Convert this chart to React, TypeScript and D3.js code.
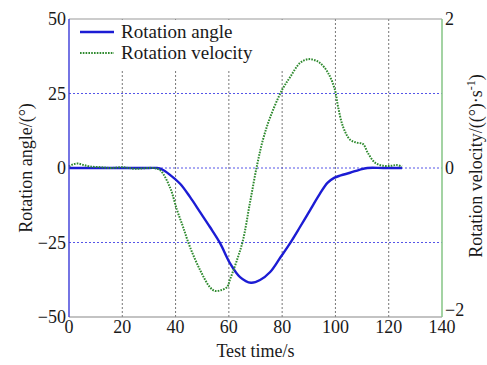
import React from "react";
import * as d3 from "d3";

const angleT = [0, 10, 20, 30, 33, 35, 37.9, 41.7, 45.4, 49.2, 52.9, 56.7, 60.4, 64.2, 68.3, 71.7, 75.5, 79.2, 83, 86.7, 90.5, 94.2, 97, 99.5, 102, 105.5, 109, 112, 118, 125];
const angleV = [0, 0, 0, 0, 0, -0.5, -2.3, -5.3, -9.7, -14.8, -19.8, -25.2, -31.9, -36.6, -38.5, -37.6, -34.9, -30.2, -25.2, -19.8, -14.1, -8.6, -5, -3.3, -2.5, -1.6, -0.6, 0, 0, 0];

const velT = [0, 1.5, 3.4, 5.5, 8, 12, 16, 20, 25, 31.5, 34.2, 37.9, 40.5, 42.8, 45.4, 49.2, 52.9, 54.8, 57, 59.3, 60.4, 63.1, 65.3, 67.9, 70.6, 72.8, 75.5, 80, 83, 86.7, 89.7, 92, 94.2, 97.2, 99.8, 101, 102.9, 105.5, 108.1, 110.4, 112.2, 114.9, 117.9, 121, 123, 125];
const velV = [0.02, 0.05, 0.06, 0.04, 0.02, 0.01, 0.0, 0.01, -0.01, 0, -0.03, -0.26, -0.56, -0.79, -1.06, -1.37, -1.6, -1.65, -1.64, -1.6, -1.5, -1.23, -0.97, -0.47, 0.04, 0.38, 0.68, 1.05, 1.22, 1.41, 1.46, 1.45, 1.41, 1.28, 1.05, 0.82, 0.55, 0.38, 0.34, 0.32, 0.2, 0.07, 0.03, 0.03, 0.04, 0.02];

const xTicks = [0, 20, 40, 60, 80, 100, 120, 140];
const yLeftTicks = [-50, -25, 0, 25, 50];
const yRightTicks = [-2, 0, 2];
const gridY = [-25, 0, 25];
const gridX = [20, 40, 60, 80, 100, 120];

const FONT = '"Liberation Serif", "Times New Roman", "DejaVu Serif", serif';

export default function App() {
  const W = 487, H = 365;
  const L = 69, R = 442, T = 19, B = 317;
  const x = d3.scaleLinear().domain([0, 140]).range([L, R]);
  const yl = d3.scaleLinear().domain([-50, 50]).range([B, T]);
  const yr = d3.scaleLinear().domain([-2, 2]).range([B, T]);
  const angleLine = d3.line<number>().x((_, i) => x(angleT[i])).y((d) => yl(d)).curve(d3.curveCatmullRom.alpha(0.5))(angleV) || "";
  const velLine = d3.line<number>().x((_, i) => x(velT[i])).y((d) => yr(d)).curve(d3.curveCatmullRom.alpha(0.5))(velV) || "";
  const legR = 286, legB = 71;
  const minus = (v: number) => (v < 0 ? "\u2212" + Math.abs(v) : String(v));
  const ts = { fontFamily: FONT, fill: "#1a1a1a" } as React.CSSProperties;
  return (
    <svg width={W} height={H} style={{ position: "absolute", left: 0, top: 0, background: "#fff", fontFamily: FONT }}>
      <rect x={0} y={0} width={W} height={H} fill="#fff" />
      {gridX.map((g) => (
        <line key={"gx" + g} x1={x(g)} x2={x(g)} y1={B} y2={T} stroke="#777" strokeWidth={1} strokeDasharray="2,2" />
      ))}
      {gridY.map((g) => (
        <line key={"gy" + g} x1={L} x2={R} y1={yl(g)} y2={yl(g)} stroke="#5555e8" strokeWidth={1} strokeDasharray="2,2" />
      ))}
      <rect x={L + 1} y={T + 1} width={legR - L - 1} height={legB - T - 1} fill="#fff" />
      <path d={angleLine} fill="none" stroke="#1c1cd4" strokeWidth={2.4} />
      <path d={velLine} fill="none" stroke="#2f8a2f" strokeWidth={2} strokeDasharray="1.6,1.2" />
      <line x1={L} x2={R} y1={T} y2={T} stroke="#999" strokeWidth={1.2} />
      <line x1={L} x2={R} y1={B} y2={B} stroke="#888" strokeWidth={1.2} />
      <line x1={L} x2={L} y1={T} y2={B} stroke="#3a3ad8" strokeWidth={1.4} />
      <line x1={R} x2={R} y1={T} y2={B} stroke="#8cc88c" strokeWidth={1.6} />
      {xTicks.map((t) => (
        <text key={"xt" + t} x={x(t)} y={B + 16} textAnchor="middle" fontSize={18} style={ts}>{t}</text>
      ))}
      {yLeftTicks.map((t) => (
        <text key={"yl" + t} x={L - 3} y={yl(t) + 6} textAnchor="end" fontSize={18} style={ts}>{minus(t)}</text>
      ))}
      {yRightTicks.map((t) => (
        <text key={"yr" + t} x={R + 3} y={yr(t) + (t === -2 ? -1 : 6)} textAnchor="start" fontSize={18} style={ts}>{minus(t)}</text>
      ))}
      <text x={(L + R) / 2} y={357} textAnchor="middle" fontSize={18} style={ts}>Test time/s</text>
      <text transform={`translate(32,${(T + B) / 2}) rotate(-90)`} textAnchor="middle" fontSize={18} style={ts}>Rotation angle/(°)</text>
      <text transform={`translate(482,${(T + B) / 2 - 2}) rotate(-90)`} textAnchor="middle" fontSize={18} style={ts}>
        Rotation velocity/((°)·s<tspan dy={-7} fontSize={12}>-1</tspan><tspan dy={7}>)</tspan>
      </text>
      <line x1={80} x2={114} y1={32} y2={32} stroke="#1c1cd4" strokeWidth={2.4} />
      <text x={121} y={38} fontSize={19} style={ts}>Rotation angle</text>
      <line x1={80} x2={114} y1={53} y2={53} stroke="#2f8a2f" strokeWidth={2} strokeDasharray="1.6,1.2" />
      <text x={121} y={59} fontSize={19} style={ts}>Rotation velocity</text>
    </svg>
  );
}
